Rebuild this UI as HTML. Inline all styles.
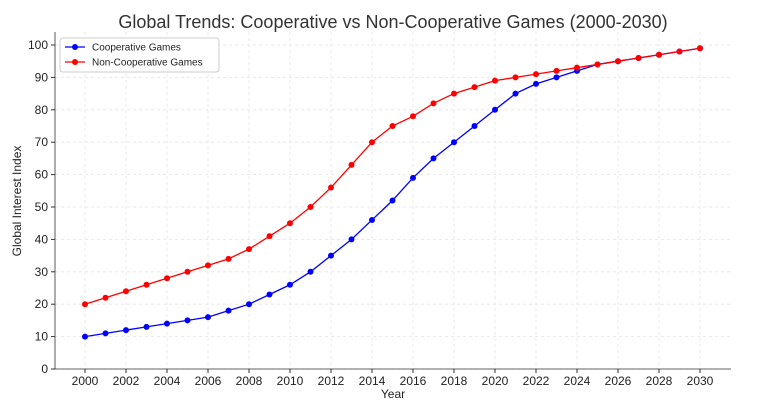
<!DOCTYPE html>
<html><head><meta charset="utf-8"><style>
body{margin:0;background:#fff;font-family:"Liberation Sans",sans-serif}
</style></head><body>
<svg id="chart" width="762" height="403" xmlns="http://www.w3.org/2000/svg" font-family="Liberation Sans, DejaVu Sans, sans-serif">
<g id="grid"></g><g id="axes"></g><g id="series"></g>
<text x="393" y="28" text-anchor="middle" font-size="18" fill="#333">Global Trends: Cooperative vs Non-Cooperative Games (2000-2030)</text>
<text x="393" y="398" text-anchor="middle" font-size="12" fill="#222">Year</text>
<text transform="translate(21,201) rotate(-90)" text-anchor="middle" font-size="12" fill="#222">Global Interest Index</text>
<g>
<rect x="60" y="38" width="159" height="34" fill="#fff" stroke="#ccc" rx="3"/>
<line x1="65" y1="47" x2="85" y2="47" stroke="blue" stroke-width="1.3"/><circle cx="75" cy="47" r="3" fill="blue"/>
<text x="92" y="50.5" font-size="10" fill="#222">Cooperative Games</text>
<line x1="65" y1="62" x2="85" y2="62" stroke="red" stroke-width="1.3"/><circle cx="75" cy="62" r="3" fill="red"/>
<text x="92" y="65.5" font-size="10" fill="#222">Non-Cooperative Games</text>
</g>
</svg>
<script>
const years=[2000,2001,2002,2003,2004,2005,2006,2007,2008,2009,2010,2011,2012,2013,2014,2015,2016,2017,2018,2019,2020,2021,2022,2023,2024,2025,2026,2027,2028,2029,2030];
const cooperative=[10,11,12,13,14,15,16,18,20,23,26,30,35,40,46,52,59,65,70,75,80,85,88,90,92,94,95,96,97,98,99];
const nonCooperative=[20,22,24,26,28,30,32,34,37,41,45,50,56,63,70,75,78,82,85,87,89,90,91,92,93,94,95,96,97,98,99];
const xTicks=[2000,2002,2004,2006,2008,2010,2012,2014,2016,2018,2020,2022,2024,2026,2028,2030];
const yTicks=[0,10,20,30,40,50,60,70,80,90,100];
const NS="http://www.w3.org/2000/svg";
const L=55,R=731,T=32,B=369;
const x=v=>85+(v-2000)*(700-85)/30;
const y=v=>369-v*3.24;
function mk(t,a,p){const e=document.createElementNS(NS,t);for(const k in a)e.setAttribute(k,a[k]);p.appendChild(e);return e;}
const g=document.getElementById('grid'),ax=document.getElementById('axes'),s=document.getElementById('series');
xTicks.forEach(v=>{
const l=mk('line',{x1:x(v),x2:x(v),y1:T,y2:B,stroke:'#e4e4e4','stroke-dasharray':'3,3','stroke-width':0.8},g);


mk('line',{x1:x(v),x2:x(v),y1:B,y2:B+4,stroke:'#333'},ax);
const t=mk('text',{x:x(v),y:B+16,'text-anchor':'middle','font-size':12,fill:'#222'},ax);t.textContent=v;


});
yTicks.forEach(v=>{
const l=mk('line',{x1:L,x2:R,y1:y(v),y2:y(v),stroke:'#e4e4e4','stroke-dasharray':'3,3','stroke-width':0.8},g);


mk('line',{x1:L-4,x2:L,y1:y(v),y2:y(v),stroke:'#333'},ax);
const t=mk('text',{x:L-7,y:y(v)+4,'text-anchor':'end','font-size':12,fill:'#222'},ax);t.textContent=v;


});
const f=mk('path',{d:`M${L},${T}V${B}H${R}`,fill:'none',stroke:'#333','stroke-width':0.8},ax);


[[cooperative,'blue','cooperative'],[nonCooperative,'red','non-cooperative']].forEach(([d,c,n])=>{
const p=mk('polyline',{points:d.map((v,i)=>x(years[i])+','+y(v)).join(' '),fill:'none',stroke:c,'stroke-width':1.3},s);


d.forEach((v,i)=>{const m=mk('circle',{cx:x(years[i]),cy:y(v),r:3,fill:c},s);

});
});
</script>
</body></html>
